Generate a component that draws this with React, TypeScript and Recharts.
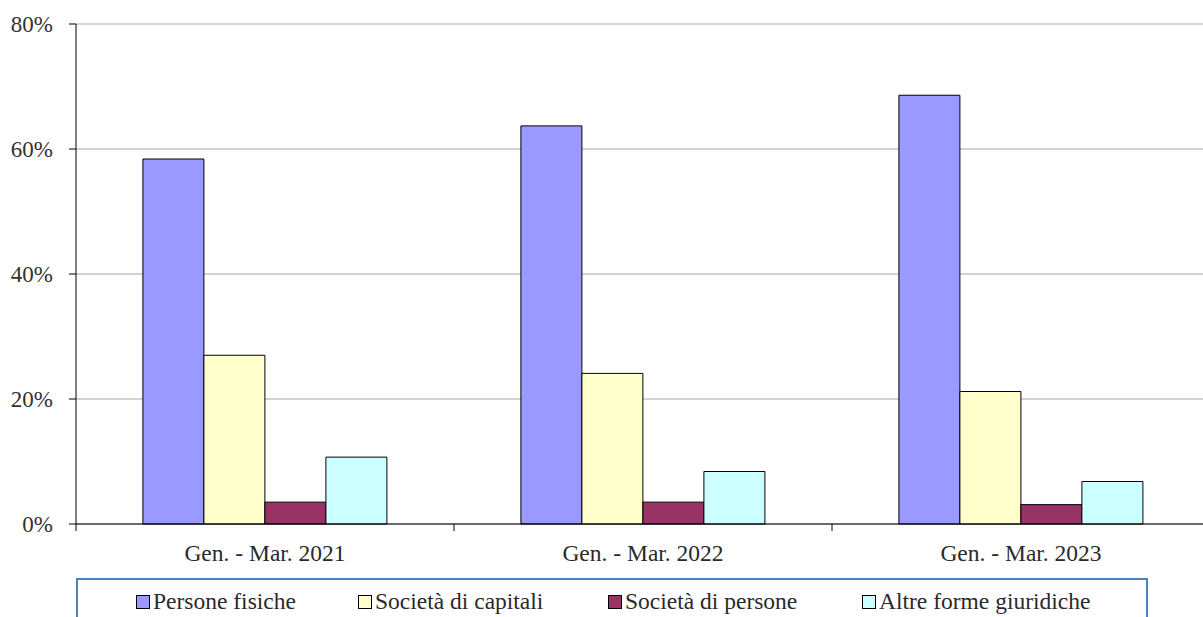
import { BarChart, Bar, XAxis, YAxis, CartesianGrid, Legend, ReferenceLine } from 'recharts'

const periods = ['Gen. - Mar. 2021', 'Gen. - Mar. 2022', 'Gen. - Mar. 2023']
const personeFisiche = [58.4, 63.7, 68.6]
const societaCapitali = [27.0, 24.1, 21.2]
const societaPersone = [3.5, 3.5, 3.1]
const altreForme = [10.7, 8.4, 6.8]
const yTicks = [0, 20, 40, 60, 80]

const SERIES = [
  { key: 'pf', name: 'Persone fisiche', color: '#9999ff' },
  { key: 'sc', name: 'Società di capitali', color: '#ffffcc' },
  { key: 'sp', name: 'Società di persone', color: '#993366' },
  { key: 'af', name: 'Altre forme giuridiche', color: '#ccffff' },
]

const data = periods.map((p, i) => ({
  name: p,
  pf: personeFisiche[i],
  sc: societaCapitali[i],
  sp: societaPersone[i],
  af: altreForme[i],
}))

const FONT = "'Liberation Serif', 'Times New Roman', 'DejaVu Serif', serif"
const BAND = 378

const CategoryTick = (props: any) => {
  const { x, y, payload } = props
  return (
    <g>
      <line x1={x - BAND / 2} y1={y} x2={x - BAND / 2} y2={y + 7} stroke="#000" />
      <text x={x} y={y + 32} textAnchor="middle" dominantBaseline="middle" fontSize={23.5} fill="#2a2a2a" fontFamily={FONT}>
        {payload.value}
      </text>
    </g>
  )
}

const LegendBox = () => (
  <div
    style={{
      width: 1072,
      height: 60,
      border: '2px solid #4f81bd',
      boxSizing: 'border-box',
      background: '#fff',
      position: 'relative',
      fontFamily: FONT,
      fontSize: 23.5,
      color: '#2a2a2a',
    }}
  >
    {SERIES.map((s, i) => (
      <div
        key={s.key}
        style={{ position: 'absolute', left: [58, 280, 530, 784][i], top: 8, display: 'flex', alignItems: 'center', whiteSpace: 'nowrap' }}
      >
        <span style={{ display: 'inline-block', width: 12, height: 12, background: s.color, border: '1px solid #000', marginRight: 3 }} />
        <span>{s.name}</span>
      </div>
    ))}
  </div>
)

export default function App() {
  return (
    <div style={{ position: 'absolute', left: 0, top: 0, width: 1203, height: 617, overflow: 'hidden', background: '#fff' }}>
      <BarChart
        width={1210}
        height={617}
        data={data}
        margin={{ top: 24, right: 0, bottom: 0, left: 0 }}
        barCategoryGap="17.7%"
        barGap={0}
      >
        <CartesianGrid horizontal vertical={false} stroke="#a6a6a6" />
        <ReferenceLine y={80} stroke="#d6d6d6" strokeWidth={1.5} />
        <XAxis
          dataKey="name"
          height={93}
          axisLine={{ stroke: '#000' }}
          tickLine={false}
          tickSize={0}
          tickMargin={0}
          tick={<CategoryTick />}
          interval={0}
        />
        <YAxis
          width={76}
          domain={[0, 80]}
          ticks={yTicks}
          tickFormatter={(v) => `${v}%`}
          axisLine={{ stroke: '#000' }}
          tickLine={{ stroke: '#000' }}
          tickSize={7}
          tickMargin={16}
          tick={{ fontSize: 23, fill: '#333', fontFamily: FONT }}
        />
        <Legend
          layout="horizontal"
          verticalAlign="middle"
          align="center"
          content={<LegendBox />}
          wrapperStyle={{ position: 'absolute', left: 76, top: 578, width: 1072 }}
        />
        {SERIES.map((s) => (
          <Bar key={s.key} dataKey={s.key} name={s.name} fill={s.color} stroke="#000" strokeWidth={1} isAnimationActive={false} />
        ))}
      </BarChart>
    </div>
  )
}
